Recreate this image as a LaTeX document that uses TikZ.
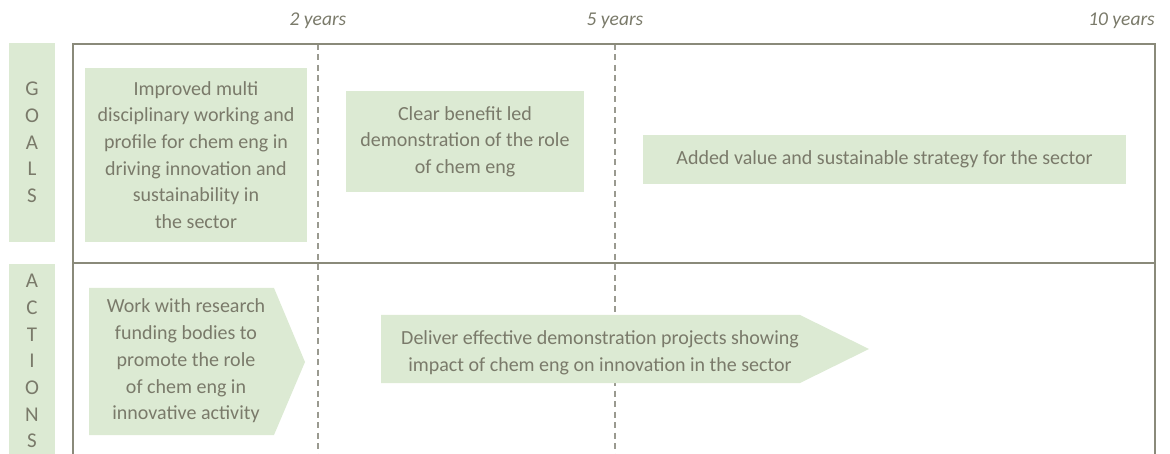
\documentclass[tikz,border=0pt]{standalone}
\usepackage{fontspec}
\setmainfont{Carlito}
\definecolor{boxgreen}{HTML}{DCEAD3}
\definecolor{txt}{HTML}{7A7A6A}
\definecolor{framec}{HTML}{8A8A7A}
\definecolor{dashc}{HTML}{9A9A90}
\tikzset{
  bodytext/.style={text=txt, align=center, inner sep=0pt, font=\fontsize{20}{26.7}\selectfont},
  goalbox/.style={bodytext, fill=boxgreen},
  sidebar/.style={fill=boxgreen, text=txt, align=center, inner sep=0pt, font=\fontsize{21}{26.7}\selectfont},
  yearlabel/.style={text=txt, inner sep=0pt, font=\fontsize{19.5}{22}\selectfont\itshape},
  gridline/.style={draw=framec, line width=1.5pt},
  timeline/.style={draw=dashc, line width=1.3pt, dash pattern=on 6pt off 4.5pt},
}
\begin{document}
\begin{tikzpicture}[x=1pt,y=-1pt]
\useasboundingbox (0,0) rectangle (1170,454);
% dashed timelines
\coordinate (t2top) at (318,44);
\coordinate (t2bot) at (318,454);
\coordinate (t5top) at (615,44);
\coordinate (t5bot) at (615,454);
\draw[timeline] (t2top) -- (t2bot);
\draw[timeline] (t5top) -- (t5bot);
% frame
\coordinate (fbl) at (73,454);
\coordinate (ftl) at (73,44);
\coordinate (ftr) at (1155,44);
\coordinate (fbr) at (1155,454);
\coordinate (dl) at (73,263);
\coordinate (dr) at (1155,263);
\draw[gridline] (fbl) -- (ftl) -- (ftr) -- (fbr);
\draw[gridline] (dl) -- (dr);
% year labels
\node[yearlabel] (y2) at (318,21) {2 years};
\node[yearlabel] (y5) at (615,21) {5 years};
\node[yearlabel, anchor=east] (y10) at (1155,21) {10 years};
% side bars
\node[sidebar, minimum width=46pt, minimum height=199pt] (goals) at (32,142.5) {G\\O\\A\\L\\S};
\fill[boxgreen] (9,264) rectangle (55,454);
\node[text=txt, align=center, inner sep=0pt, font=\fontsize{21}{26.7}\selectfont, anchor=north] (actions) at (32,274) {A\\C\\T\\I\\O\\N\\S};
% goal boxes
\node[goalbox, minimum width=222pt, minimum height=174pt] (g1) at (196,155)
  {Improved multi\\disciplinary working and\\profile for chem eng in\\driving innovation and\\sustainability in\\the sector};
\node[goalbox, minimum width=238pt, minimum height=101pt] (g2) at (465,141.5)
  {Clear benefit led\\demonstration of the role\\of chem eng};
\node[goalbox, minimum width=483pt, minimum height=49.5pt] (g3) at (884.5,159.3)
  {Added value and sustainable strategy for the sector};
% action arrows
\fill[boxgreen] (89,288) -- (274,288) -- (305,362) -- (274,435) -- (89,435) -- cycle;
\node[bodytext] (a1) at (186,361)
  {Work with research\\funding bodies to\\promote the role\\of chem eng in\\innovative activity};
\fill[boxgreen] (381,315) -- (800,315) -- (869,349) -- (800,383) -- (381,383) -- cycle;
\node[bodytext] (a2) at (600,353)
  {Deliver effective demonstration projects showing\\impact of chem eng on innovation in the sector};
\end{tikzpicture}
\end{document}
